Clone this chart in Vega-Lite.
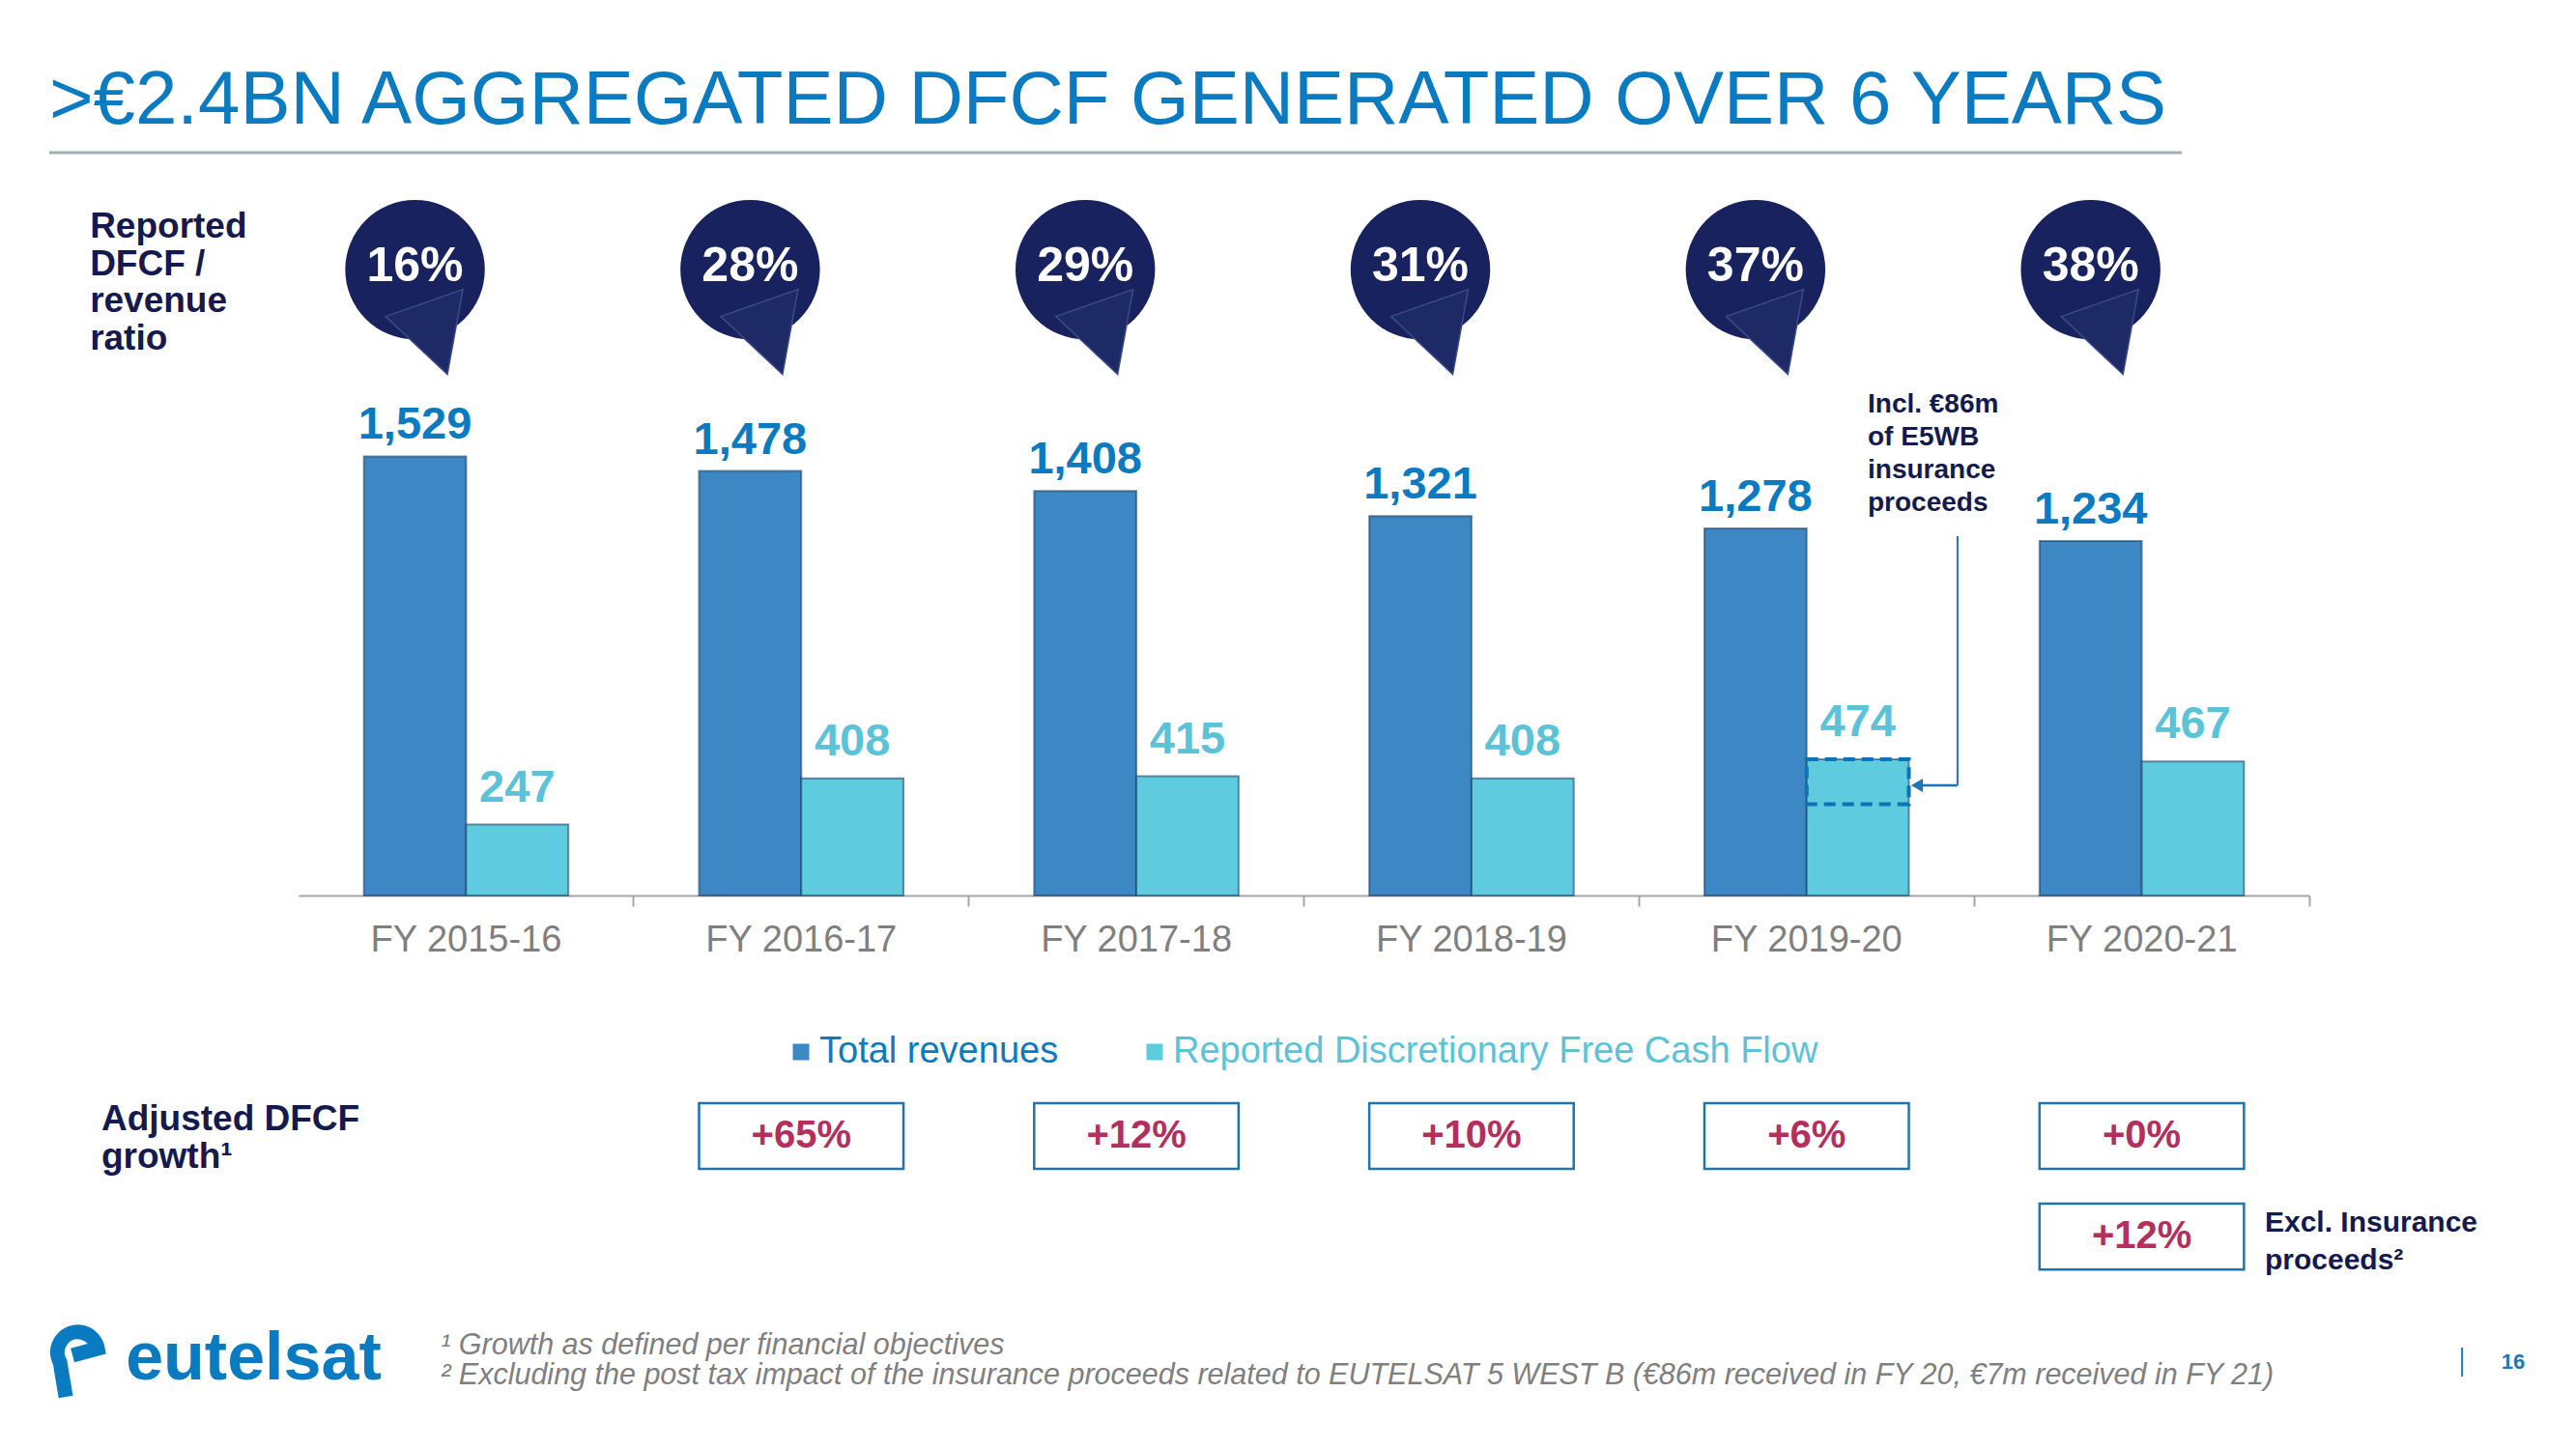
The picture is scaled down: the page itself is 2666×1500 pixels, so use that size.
{
  "$schema": "https://vega.github.io/schema/vega-lite/v6.json",
  "width": 2081,
  "height": 892,
  "autosize": {"type": "none"},
  "padding": {"left": 309, "top": 35, "right": 276, "bottom": 573},
  "background": "white",
  "config": {
    "view": {"stroke": null},
    "font": "Liberation Sans",
    "text": {"font": "Liberation Sans"},
    "axisX": {"labelAngle": 0, "labelFontSize": 38, "labelColor": "#7F7F7F", "labelFont": "Liberation Sans", "labelPadding": 16, "labelLimit": 400, "domainColor": "#A6A6A6", "domainWidth": 2, "tickColor": "#A6A6A6", "tickWidth": 2, "tickSize": 11, "bandPosition": 1.3197, "grid": false}
  },
  "datasets": {
    "bars": [
      {"year": "FY 2015-16", "series": "Total revenues", "value": 1529},
      {"year": "FY 2015-16", "series": "Reported Discretionary Free Cash Flow", "value": 247},
      {"year": "FY 2016-17", "series": "Total revenues", "value": 1478},
      {"year": "FY 2016-17", "series": "Reported Discretionary Free Cash Flow", "value": 408},
      {"year": "FY 2017-18", "series": "Total revenues", "value": 1408},
      {"year": "FY 2017-18", "series": "Reported Discretionary Free Cash Flow", "value": 415},
      {"year": "FY 2018-19", "series": "Total revenues", "value": 1321},
      {"year": "FY 2018-19", "series": "Reported Discretionary Free Cash Flow", "value": 408},
      {"year": "FY 2019-20", "series": "Total revenues", "value": 1278},
      {"year": "FY 2019-20", "series": "Reported Discretionary Free Cash Flow", "value": 474},
      {"year": "FY 2020-21", "series": "Total revenues", "value": 1234},
      {"year": "FY 2020-21", "series": "Reported Discretionary Free Cash Flow", "value": 467}
    ],
    "years": [
      {"year": "FY 2015-16", "ratio": "16%"},
      {"year": "FY 2016-17", "ratio": "28%"},
      {"year": "FY 2017-18", "ratio": "29%"},
      {"year": "FY 2018-19", "ratio": "31%"},
      {"year": "FY 2019-20", "ratio": "37%"},
      {"year": "FY 2020-21", "ratio": "38%"}
    ],
    "growth": [
      {"year": "FY 2016-17", "growth": "+65%"},
      {"year": "FY 2017-18", "growth": "+12%"},
      {"year": "FY 2018-19", "growth": "+10%"},
      {"year": "FY 2019-20", "growth": "+6%"},
      {"year": "FY 2020-21", "growth": "+0%"}
    ],
    "excl": [
      {"year": "FY 2020-21", "growth": "+12%", "note": "Excl. Insurance\nproceeds²"}
    ],
    "insurance": [
      {"year": "FY 2019-20", "series": "Reported Discretionary Free Cash Flow", "from": 474, "to": 318, "label": "Incl. €86m\nof E5WB\ninsurance\nproceeds"}
    ]
  },
  "layer": [
    {
      "data": {"values": [{"t": ">€2.4BN AGGREGATED DFCF GENERATED OVER 6 YEARS"}]},
      "mark": {"type": "text", "align": "left", "baseline": "alphabetic", "fontSize": 78, "color": "#0B7BC1"},
      "encoding": {
        "x": {"datum": "FY 2015-16", "type": "nominal", "bandPosition": -1.539, "title": null},
        "y": {"datum": 2687, "type": "quantitative", "axis": null},
        "text": {"field": "t"}
      }
    },
    {
      "data": {"values": [{"t": "rule"}]},
      "mark": {"type": "point", "shape": "stroke", "size": 4870849, "filled": false, "color": "#9DB1B8", "strokeWidth": 3, "opacity": 1},
      "encoding": {
        "x": {"datum": "FY 2017-18", "type": "nominal", "bandPosition": 0.398, "title": null},
        "y": {"datum": 2586, "type": "quantitative", "axis": null}
      }
    },
    {
      "data": {"values": [{"t": "Reported\nDFCF /\nrevenue\nratio"}]},
      "mark": {"type": "text", "align": "left", "baseline": "alphabetic", "fontSize": 37, "fontWeight": "bold", "color": "#141A4E", "lineBreak": "\n", "lineHeight": 38.5},
      "encoding": {
        "x": {"datum": "FY 2015-16", "type": "nominal", "bandPosition": -1.34, "title": null},
        "y": {"datum": 2290, "type": "quantitative", "axis": null},
        "text": {"field": "t"}
      }
    },
    {
      "data": {"name": "years"},
      "mark": {"type": "point", "shape": "circle", "size": 20867, "filled": true, "color": "#18225E", "opacity": 1},
      "encoding": {
        "x": {"field": "year", "type": "nominal", "bandPosition": 0.25, "title": null},
        "y": {"datum": 2179, "type": "quantitative", "axis": null}
      }
    },
    {
      "data": {"name": "years"},
      "mark": {"type": "point", "shape": "M-0.374,0.595L0.607,0.252L0.411,1.331Z", "size": 26569, "filled": true, "color": "#1E2A66", "stroke": "#3B4B8C", "strokeWidth": 1.5, "opacity": 1},
      "encoding": {
        "x": {"field": "year", "type": "nominal", "bandPosition": 0.25, "title": null},
        "y": {"datum": 2179, "type": "quantitative", "axis": null}
      }
    },
    {
      "data": {"name": "years"},
      "mark": {"type": "text", "baseline": "middle", "align": "center", "fontSize": 50, "fontWeight": "bold", "color": "white", "dy": -3},
      "encoding": {
        "x": {"field": "year", "type": "nominal", "bandPosition": 0.25, "title": null},
        "y": {"datum": 2179, "type": "quantitative", "axis": null},
        "text": {"field": "ratio"}
      }
    },
    {
      "data": {"name": "bars"},
      "mark": {"type": "bar", "stroke": "#12385C", "strokeOpacity": 0.55, "strokeWidth": 2},
      "encoding": {
        "x": {
          "field": "year", "type": "nominal", "title": null,
          "scale": {"domain": ["FY 2015-16", "FY 2016-17", "FY 2017-18", "FY 2018-19", "FY 2019-20", "FY 2020-21"], "paddingInner": 0.39, "paddingOuter": 0.195},
          "axis": {"title": null}
        },
        "xOffset": {"field": "series", "type": "nominal", "scale": {"domain": ["Total revenues", "Reported Discretionary Free Cash Flow"]}},
        "y": {"field": "value", "type": "quantitative", "scale": {"domain": [0, 3000], "nice": false, "zero": true}, "axis": null},
        "color": {
          "field": "series", "type": "nominal",
          "scale": {"domain": ["Total revenues", "Reported Discretionary Free Cash Flow"], "range": ["#3C87C4", "#5ECBDF"]},
          "legend": {
            "title": null, "orient": "none", "legendX": 501, "legendY": 1035, "direction": "horizontal",
            "symbolType": "square", "symbolSize": 289, "symbolStrokeWidth": 0,
            "labelFontSize": 38, "labelFont": "Liberation Sans", "labelOffset": 0, "columnPadding": 80, "labelLimit": 1200, "padding": 0,
            "labelColor": {"expr": "datum.label == 'Total revenues' ? '#0B7BC1' : '#5BC3D8'"}
          }
        }
      }
    },
    {
      "data": {"name": "bars"},
      "transform": [{"filter": "datum.series == 'Total revenues'"}],
      "mark": {"type": "text", "baseline": "alphabetic", "align": "center", "fontSize": 47, "fontWeight": "bold", "color": "#0B7BC1", "dy": -18},
      "encoding": {
        "x": {"field": "year", "type": "nominal", "title": null},
        "xOffset": {"field": "series", "type": "nominal"},
        "y": {"field": "value", "type": "quantitative", "axis": null},
        "text": {"field": "value", "type": "quantitative", "format": ","}
      }
    },
    {
      "data": {"name": "bars"},
      "transform": [{"filter": "datum.series != 'Total revenues'"}],
      "mark": {"type": "text", "baseline": "alphabetic", "align": "center", "fontSize": 47, "fontWeight": "bold", "color": "#5BC3D8", "dy": -24},
      "encoding": {
        "x": {"field": "year", "type": "nominal", "title": null},
        "xOffset": {"field": "series", "type": "nominal"},
        "y": {"field": "value", "type": "quantitative", "axis": null},
        "text": {"field": "value", "type": "quantitative", "format": ","}
      }
    },
    {
      "data": {"name": "insurance"},
      "mark": {"type": "bar", "filled": false, "color": "#0E72B8", "strokeWidth": 4, "strokeDash": [12, 7]},
      "encoding": {
        "x": {"field": "year", "type": "nominal", "title": null},
        "xOffset": {"field": "series", "type": "nominal"},
        "y": {"field": "from", "type": "quantitative", "axis": null},
        "y2": {"field": "to"}
      }
    },
    {
      "data": {"name": "insurance"},
      "mark": {"type": "text", "align": "left", "baseline": "alphabetic", "fontSize": 28, "fontWeight": "bold", "color": "#141A4E", "lineBreak": "\n", "lineHeight": 34},
      "encoding": {
        "x": {"datum": "FY 2019-20", "type": "nominal", "bandPosition": 0.799, "title": null},
        "y": {"datum": 1682, "type": "quantitative", "axis": null},
        "text": {"field": "label"}
      }
    },
    {
      "data": {"name": "insurance"},
      "mark": {"type": "rule", "color": "#1C74B4", "strokeWidth": 2},
      "encoding": {
        "x": {"datum": "FY 2019-20", "type": "nominal", "bandPosition": 1.238, "title": null},
        "y": {"datum": 1251, "type": "quantitative", "axis": null},
        "y2": {"datum": 383}
      }
    },
    {
      "data": {"name": "insurance"},
      "mark": {"type": "point", "shape": "stroke", "size": 1681, "filled": false, "color": "#1C74B4", "strokeWidth": 2.5, "opacity": 1},
      "encoding": {
        "x": {"datum": "FY 2019-20", "type": "nominal", "bandPosition": 1.141, "title": null},
        "y": {"datum": 383, "type": "quantitative", "axis": null}
      }
    },
    {
      "data": {"name": "insurance"},
      "mark": {"type": "point", "shape": "triangle-left", "size": 196, "filled": true, "color": "#1C74B4", "opacity": 1},
      "encoding": {
        "x": {"datum": "FY 2019-20", "type": "nominal", "bandPosition": 1.04, "title": null},
        "y": {"datum": 383, "type": "quantitative", "axis": null}
      }
    },
    {
      "data": {"values": [{"t": "Adjusted DFCF\ngrowth¹"}]},
      "mark": {"type": "text", "align": "left", "baseline": "alphabetic", "fontSize": 37, "fontWeight": "bold", "color": "#141A4E", "lineBreak": "\n", "lineHeight": 39},
      "encoding": {
        "x": {"datum": "FY 2015-16", "type": "nominal", "bandPosition": -1.284, "title": null},
        "y": {"datum": -817, "type": "quantitative", "axis": null},
        "text": {"field": "t"}
      }
    },
    {
      "data": {"name": "growth"},
      "mark": {"type": "bar", "fill": "white", "stroke": "#1F73AE", "strokeWidth": 2.5},
      "encoding": {
        "x": {"field": "year", "type": "nominal", "title": null},
        "y": {"datum": -723, "type": "quantitative", "axis": null},
        "y2": {"datum": -952}
      }
    },
    {
      "data": {"name": "growth"},
      "mark": {"type": "text", "align": "center", "baseline": "middle", "fontSize": 40, "fontWeight": "bold", "color": "#B3305E"},
      "encoding": {
        "x": {"field": "year", "type": "nominal", "title": null},
        "y": {"datum": -837, "type": "quantitative", "axis": null},
        "text": {"field": "growth"}
      }
    },
    {
      "data": {"name": "excl"},
      "mark": {"type": "bar", "fill": "white", "stroke": "#1F73AE", "strokeWidth": 2.5},
      "encoding": {
        "x": {"field": "year", "type": "nominal", "title": null},
        "y": {"datum": -1073, "type": "quantitative", "axis": null},
        "y2": {"datum": -1302}
      }
    },
    {
      "data": {"name": "excl"},
      "mark": {"type": "text", "align": "center", "baseline": "middle", "fontSize": 40, "fontWeight": "bold", "color": "#B3305E"},
      "encoding": {
        "x": {"field": "year", "type": "nominal", "title": null},
        "y": {"datum": -1187, "type": "quantitative", "axis": null},
        "text": {"field": "growth"}
      }
    },
    {
      "data": {"name": "excl"},
      "mark": {"type": "text", "align": "left", "baseline": "alphabetic", "fontSize": 30, "fontWeight": "bold", "color": "#141A4E", "lineBreak": "\n", "lineHeight": 39},
      "encoding": {
        "x": {"datum": "FY 2020-21", "type": "nominal", "bandPosition": 1.102, "title": null},
        "y": {"datum": -1170, "type": "quantitative", "axis": null},
        "text": {"field": "note"}
      }
    },
    {
      "data": {"values": [{"t": "¹ Growth as defined per financial objectives\n² Excluding the post tax impact of the insurance proceeds related to EUTELSAT 5 WEST B (€86m received in FY 20, €7m received in FY 21)"}]},
      "mark": {"type": "text", "align": "left", "baseline": "alphabetic", "fontSize": 30.5, "fontStyle": "italic", "color": "#7F7F7F", "lineBreak": "\n", "lineHeight": 31},
      "encoding": {
        "x": {"datum": "FY 2015-16", "type": "nominal", "bandPosition": 0.376, "title": null},
        "y": {"datum": -1598, "type": "quantitative", "axis": null},
        "text": {"field": "t"}
      }
    },
    {
      "data": {"values": [{"t": "logo"}]},
      "mark": {"type": "point", "shape": "M-6,3L20,-4A21,21,0,1,0,-19,10L-13,46", "size": 4, "filled": false, "color": "#0A7BC0", "strokeWidth": 15, "opacity": 1},
      "encoding": {
        "x": {"datum": "FY 2015-16", "type": "nominal", "bandPosition": -1.397, "title": null},
        "y": {"datum": -1591, "type": "quantitative", "axis": null}
      }
    },
    {
      "data": {"values": [{"t": "eutelsat"}]},
      "mark": {"type": "text", "align": "left", "baseline": "alphabetic", "fontSize": 70, "fontWeight": "bold", "color": "#0A7BC0"},
      "encoding": {
        "x": {"datum": "FY 2015-16", "type": "nominal", "bandPosition": -1.165, "title": null},
        "y": {"datum": -1685, "type": "quantitative", "axis": null},
        "text": {"field": "t"}
      }
    },
    {
      "data": {"values": [{"t": "page"}]},
      "mark": {"type": "rule", "color": "#1E78B4", "strokeWidth": 2},
      "encoding": {
        "x": {"datum": "FY 2020-21", "type": "nominal", "bandPosition": 2.067, "title": null},
        "y": {"datum": -1574, "type": "quantitative", "axis": null},
        "y2": {"datum": -1675}
      }
    },
    {
      "data": {"values": [{"t": "16"}]},
      "mark": {"type": "text", "align": "center", "baseline": "middle", "fontSize": 22, "fontWeight": "bold", "color": "#1E78B4"},
      "encoding": {
        "x": {"datum": "FY 2020-21", "type": "nominal", "bandPosition": 2.317, "title": null},
        "y": {"datum": -1624, "type": "quantitative", "axis": null},
        "text": {"field": "t"}
      }
    }
  ]
}
